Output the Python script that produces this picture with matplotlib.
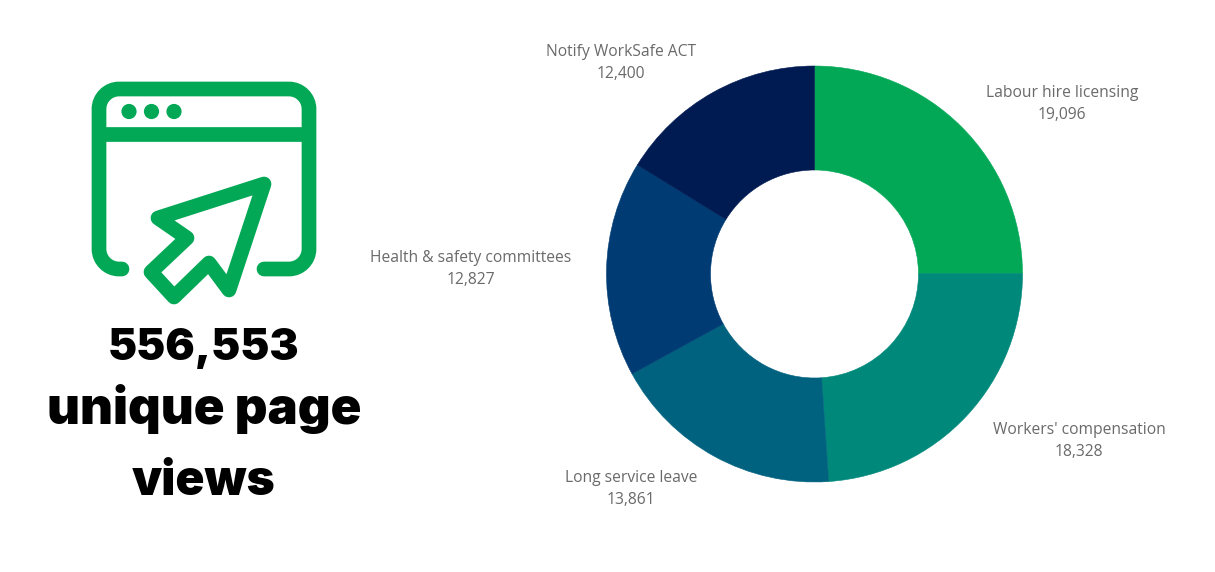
import matplotlib
matplotlib.use("Agg")
import matplotlib.pyplot as plt
from matplotlib.patches import PathPatch, Circle
from matplotlib.path import Path

# Page views per topic, clockwise from twelve o'clock
topics = ["Labour hire licensing", "Workers' compensation", "Long service leave",
          "Health & safety committees", "Notify WorkSafe ACT"]
views = [19096, 18328, 13861, 12827, 12400]
colors = ["#03A857", "#00897A", "#00627F", "#003C73", "#001A52"]
label_xy = [(1062, 104), (1079, 441), (631, 489), (470.5, 269), (621, 63)]
headline = ["556,553", "unique page", "views"]
headline_y = [360, 424, 495]
headline_size = [31.5, 36.6, 34.5]

W, H = 1215, 572
GREEN = "#03A857"
fig = plt.figure(figsize=(W / 100, H / 100), dpi=100, facecolor="white")

# Full-figure overlay in pixel units, y pointing down
canvas = fig.add_axes([0, 0, 1, 1])
canvas.set_xlim(0, W)
canvas.set_ylim(H, 0)
canvas.axis("off")

# Donut chart
cx, cy, R = 814.5, 274, 208
pie_ax = fig.add_axes([(cx - R) / W, 1 - (cy + R) / H, 2 * R / W, 2 * R / H])
wedges, _ = pie_ax.pie(views, colors=colors, startangle=90, counterclock=False, radius=1.0,
                       wedgeprops=dict(width=0.5, linewidth=0.4))
for wedge, color in zip(wedges, colors):
    wedge.set_edgecolor(color)
pie_ax.set_xlim(-1, 1)
pie_ax.set_ylim(-1, 1)

for name, value, (x, y) in zip(topics, views, label_xy):
    canvas.text(x, y, f"{name}\n{value:,}", ha="center", va="center", fontsize=11.25,
                family="Open Sans", color="#6a6a6a", linespacing=1.45)

# Browser window icon
stroke = dict(fill=False, edgecolor=GREEN, linewidth=10.6, capstyle="round", joinstyle="round")
L, Rt, T, B, r = 99, 309, 89, 269, 20
k = 0.55 * r
frame = [
    (Path.MOVETO, (122, B)), (Path.LINETO, (L + r, B)),
    (Path.CURVE4, (L + r - k, B)), (Path.CURVE4, (L, B - r + k)), (Path.CURVE4, (L, B - r)),
    (Path.LINETO, (L, T + r)),
    (Path.CURVE4, (L, T + r - k)), (Path.CURVE4, (L + r - k, T)), (Path.CURVE4, (L + r, T)),
    (Path.LINETO, (Rt - r, T)),
    (Path.CURVE4, (Rt - r + k, T)), (Path.CURVE4, (Rt, T + r - k)), (Path.CURVE4, (Rt, T + r)),
    (Path.LINETO, (Rt, B - r)),
    (Path.CURVE4, (Rt, B - r + k)), (Path.CURVE4, (Rt - r + k, B)), (Path.CURVE4, (Rt - r, B)),
    (Path.LINETO, (264, B)),
]
codes, verts = zip(*frame)
canvas.add_patch(PathPatch(Path(verts, codes), **stroke))
canvas.plot([L, Rt], [134, 134], color=GREEN, lw=10.6, solid_capstyle="butt")
for dot_x in (129, 151.5, 174):
    canvas.add_patch(Circle((dot_x, 111.5), 7.6, color=GREEN, lw=0))

# Cursor arrow
arrow = [(264, 184), (158, 218), (187, 238), (151, 272), (174, 297), (209, 263), (229, 290)]
arrow_codes = [Path.MOVETO] + [Path.LINETO] * (len(arrow) - 1) + [Path.CLOSEPOLY]
canvas.add_patch(PathPatch(Path(arrow + [arrow[0]], arrow_codes), **stroke))

# Headline, one text per line
for line, y, size in zip(headline, headline_y, headline_size):
    canvas.text(204, y, line, ha="center", va="baseline", fontsize=size, fontweight="black",
                family="Inter", color="black")

fig.savefig("out.png", dpi=100, facecolor="white")
